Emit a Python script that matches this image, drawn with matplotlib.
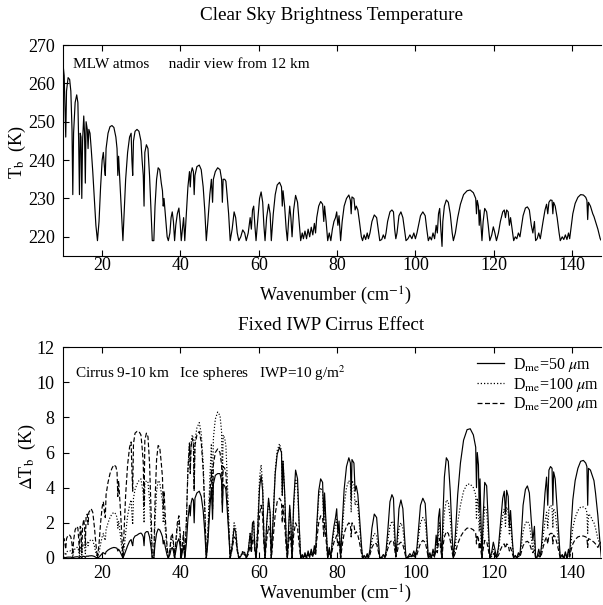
import matplotlib

matplotlib.use("Agg")
import matplotlib.pyplot as plt
from matplotlib.lines import Line2D

plt.rcParams["font.family"] = ["Liberation Serif", "DejaVu Serif"]
plt.rcParams["mathtext.fontset"] = "stix"

# wavenumber grid (cm-1), one line per spectral window
wavenumber = [
    10.0, 10.3, 10.5, 10.7, 10.9, 11.3, 11.7, 12.0, 12.3, 12.5, 12.7, 13.1, 13.5, 13.8, 14.0, 14.2, 14.4, 14.6, 14.8, 15.0, 15.3, 15.5, 15.7, 15.9, 16.2, 16.4, 16.6, 16.9, 17.2, 17.6, 18.0, 18.4, 18.8,
    19.2, 19.6, 20.0, 20.3, 20.6, 20.8, 21.0, 21.5, 22.0, 22.5, 23.0, 23.5, 23.8, 24.0, 24.2, 24.6, 25.0, 25.3,
    25.6, 26.0, 26.5, 27.0, 27.4, 27.6, 27.8, 28.0, 28.4, 28.9, 29.4, 29.9, 30.2, 30.5, 30.7, 30.9, 31.3, 31.7, 32.1, 32.5, 32.8,
    33.2, 33.5, 33.9, 34.3, 34.7, 35.1, 35.4, 35.6, 35.8, 36.2, 36.6, 36.9,
    37.3, 37.6, 37.9, 38.2, 38.5, 38.8, 39.2, 39.6, 39.9, 40.2, 40.5, 40.8, 41.1,
    41.5, 41.9, 42.3, 42.5, 42.7, 43.0, 43.3, 43.5, 43.7, 44.2, 44.8, 45.3, 45.8, 46.2, 46.6,
    47.0, 47.5, 47.9, 48.2, 48.4, 48.9, 49.5, 50.1, 50.5, 50.7, 50.9, 51.3, 51.6, 51.9, 52.3, 52.7,
    53.2, 53.7, 54.1, 54.5, 54.9, 55.4, 55.9, 56.4, 56.8,
    57.3, 57.8, 58.1, 58.4, 58.7, 59.0, 59.3, 59.7, 60.2, 60.6, 61.0, 61.3, 61.6, 62.0, 62.5, 62.9, 63.2, 63.7, 64.2, 64.7, 65.3, 65.8, 66.0, 66.2, 66.6, 67.0, 67.3, 67.6, 67.9, 68.2, 68.5, 68.9, 69.4, 69.9, 70.3, 70.7,
    71.1, 71.4, 71.8, 72.2, 72.6, 73.0, 73.4, 73.8, 74.2, 74.5,
    74.8, 75.3, 75.8, 76.3, 76.6, 76.8, 77.2, 77.6,
    78.0, 78.4, 78.8, 79.2, 79.6, 79.9, 80.2, 80.5, 80.9,
    81.3, 81.8, 82.4, 83.0, 83.4, 83.6, 83.8, 84.3, 84.6, 84.9, 85.3, 85.7, 86.2, 86.5,
    86.9, 87.3, 87.7, 88.0,
    88.4, 88.9, 89.5, 90.1, 90.5, 90.9,
    91.4, 91.8, 92.2, 92.5,
    92.9, 93.5, 94.0, 94.4, 94.7, 95.0,
    95.3, 95.8, 96.3, 96.8, 97.2, 97.6,
    98.1, 98.6, 99.1, 99.6, 100.0, 100.4,
    100.8, 101.3, 101.9, 102.5, 102.9, 103.3,
    103.7, 104.1, 104.5, 104.9, 105.3, 105.6, 105.9, 106.2, 106.5, 106.8,
    107.0, 107.4, 107.9, 108.4, 108.9, 109.4, 109.7,
    110.2, 110.8, 111.5, 112.3, 113.2, 114.0, 114.8, 115.4, 115.6, 115.8, 116.1, 116.3, 116.5, 116.8, 117.0,
    117.3, 117.7, 118.2, 118.6, 119.0,
    119.5, 119.9, 120.3, 120.7,
    121.2, 121.7, 122.3, 122.7, 123.0, 123.3, 123.7, 124.0, 124.3, 124.7, 125.1,
    125.5, 125.9, 126.3, 126.7,
    127.0, 127.5, 128.1, 128.6, 129.1, 129.6, 130.0, 130.4, 130.7,
    131.1, 131.5, 131.9, 132.2,
    132.6, 133.1, 133.5, 133.8, 134.1, 134.5, 134.9, 135.1, 135.3, 135.7, 136.2, 136.7, 137.0,
    137.5, 137.9, 138.3, 138.7, 139.1, 139.4,
    139.7, 140.2, 140.8, 141.5, 142.2, 142.9, 143.5, 143.8, 144.0, 144.2, 144.7, 145.3, 145.6, 146.0, 146.6, 147.2, 147.5,
]

# clear sky brightness temperature (K)
tb_clear = [
    265, 262, 254, 246, 258, 261.5, 261, 258, 248, 231, 247, 255, 257, 255, 245, 231, 247, 246, 230, 245, 251.5, 247, 234, 250, 248, 243, 248, 247, 243, 237, 230, 223, 219,
    224, 233, 240, 242, 238, 236, 243, 247, 248.7, 249, 248.5, 246, 243, 236, 241, 233, 225, 219,
    226, 235, 242, 246, 247, 240, 236, 245, 247.5, 248, 247.5, 245, 240, 236, 228, 242, 244, 243, 236, 226, 219,
    219, 228, 235, 238, 237.5, 234, 232, 228, 230, 225, 220, 219,
    221, 225, 226.5, 224, 219, 223, 226, 227.5, 224, 219, 222, 225, 219,
    226, 233, 237, 233, 236.5, 238, 237, 231, 236, 238.3, 238.7, 237.5, 233, 227, 219,
    224, 231, 235, 229, 235, 237, 238, 237.5, 235, 229, 235, 235, 234.5, 231, 226, 219,
    222, 226.5, 225, 221, 219, 220, 221.8, 221, 219,
    221, 225, 222, 227, 228, 223, 219, 224, 230, 231.7, 229, 223, 219, 225, 228.5, 226, 219, 226, 231, 233.5, 234.2, 233, 228, 232, 228, 222, 219, 224, 228, 225, 220, 227, 230.8, 229, 224, 219,
    221, 219.5, 221.5, 219.5, 222, 220, 222.5, 220.5, 223.5, 221,
    225, 228, 229.2, 228.5, 224, 228, 224, 219,
    221, 219, 222, 224, 225, 226.5, 223, 225.5, 219,
    224, 228, 230, 230.9, 229.5, 226, 230.4, 230, 227, 228, 227, 224, 220, 219,
    220.5, 219.3, 221, 219.5,
    221, 224, 225.7, 225, 222, 219,
    219.3, 220.5, 219.5, 221,
    224, 226.5, 227, 226.5, 222, 219.5,
    221, 225.5, 226.5, 225, 222, 219,
    219.5, 220.5, 219.5, 221, 219.5, 221,
    223, 225.5, 226.5, 225.5, 222, 219,
    220, 219.2, 221, 219.5, 223, 221, 226, 227.4, 222, 217.5,
    224, 228, 229.6, 229, 226, 221, 219,
    221, 225, 228.5, 231, 232, 232.2, 231.5, 230, 226, 229.5, 228, 223, 227, 222, 219,
    224, 227.4, 226.5, 223, 219,
    220.5, 222.6, 221, 219,
    221, 224, 226.5, 227, 225, 227, 226.5, 223, 225, 222, 219,
    220, 219.5, 221, 220,
    222, 225.5, 227.5, 227.8, 227, 223, 221, 224, 219,
    219.5, 221, 219.5, 221.5,
    224, 227, 228.5, 226, 229, 229.6, 229.5, 226, 229, 228, 225, 221, 219,
    220, 219.3, 220.5, 219.3, 221, 219.5,
    222, 226, 228.7, 230.3, 231, 230.9, 230.3, 229.5, 224.5, 229, 228, 226, 225.3, 224, 222, 219.5, 219,
]

# cirrus effect, D_me = 50 um (K)
dtb_50 = [
    0.04, 0.04, 0.03, 0.02, 0.04, 0.05, 0.05, 0.05, 0.03, 0.01, 0.04, 0.06, 0.07, 0.07, 0.05, 0.01, 0.08, 0.08, 0.01, 0.08, 0.1, 0.08, 0.03, 0.1, 0.11, 0.09, 0.12, 0.12, 0.13, 0.12, 0.09, 0.04, 0.0,
    0.05, 0.15, 0.25, 0.3, 0.25, 0.22, 0.35, 0.45, 0.52, 0.57, 0.6, 0.58, 0.55, 0.4, 0.5, 0.35, 0.15, 0.0,
    0.15, 0.4, 0.7, 0.95, 1.05, 0.85, 0.7, 1.1, 1.25, 1.3, 1.38, 1.42, 1.35, 1.2, 0.7, 1.4, 1.5, 1.5, 1.2, 0.6, 0.0,
    0.0, 0.8, 1.4, 1.65, 1.6, 1.4, 1.2, 0.8, 1.0, 0.55, 0.15, 0.0,
    0.2, 0.5, 0.6, 0.4, 0.0, 0.4, 0.9, 1.1, 0.7, 0.0, 0.4, 0.7, 0.0,
    0.8, 2.2, 3.0, 2.4, 3.1, 3.4, 3.3, 2.0, 3.4, 3.7, 3.8, 3.5, 2.7, 1.5, 0.0,
    0.9, 2.8, 4.0, 2.2, 4.2, 4.7, 4.8, 4.8, 4.4, 2.6, 4.2, 4.1, 3.9, 2.9, 1.5, 0.0,
    0.7, 1.7, 1.5, 0.5, 0.0, 0.1, 0.35, 0.3, 0.0,
    0.4, 1.4, 0.6, 2.0, 2.1, 0.6, 0.0, 1.5, 4.0, 4.7, 3.8, 1.3, 0.0, 1.9, 3.4, 2.6, 0.0, 2.4, 4.8, 5.9, 6.3, 6.0, 3.6, 5.5, 3.8, 1.1, 0.0, 1.6, 3.0, 2.0, 0.0, 3.1, 5.0, 4.5, 2.0, 0.0,
    0.2, 0.0, 0.3, 0.0, 0.4, 0.05, 0.5, 0.1, 0.7, 0.3,
    1.8, 3.8, 4.5, 4.3, 2.2, 3.7, 1.8, 0.0,
    0.6, 0.0, 1.1, 1.8, 2.3, 2.8, 1.4, 2.1, 0.0,
    1.9, 3.9, 5.2, 5.7, 5.4, 3.3, 5.6, 5.4, 3.8, 4.1, 3.6, 2.4, 0.8, 0.0,
    0.15, 0.0, 0.25, 0.0,
    0.5, 1.7, 2.5, 2.3, 1.1, 0.0,
    0.05, 0.2, 0.05, 0.4,
    1.4, 3.2, 3.6, 3.4, 1.6, 0.1,
    0.9, 2.8, 3.3, 2.8, 1.3, 0.0,
    0.08, 0.25, 0.08, 0.4, 0.08, 0.6,
    1.7, 3.0, 3.4, 3.1, 1.6, 0.0,
    0.3, 0.0, 0.5, 0.1, 1.3, 0.7, 2.3, 2.8, 1.0, 0.0,
    2.2, 4.6, 5.7, 5.5, 3.8, 1.2, 0.0,
    1.3, 3.6, 5.4, 6.7, 7.3, 7.35, 7.0, 6.3, 4.0, 6.0, 5.3, 2.6, 4.5, 1.6, 0.0,
    2.3, 4.3, 4.1, 2.1, 0.0,
    0.35, 0.9, 0.5, 0.0,
    0.6, 1.9, 3.4, 3.8, 2.5, 3.85, 3.5, 1.8, 2.7, 1.2, 0.0,
    0.15, 0.0, 0.3, 0.15,
    1.1, 3.0, 3.9, 4.1, 3.7, 2.1, 1.0, 1.8, 0.0,
    0.08, 0.5, 0.08, 0.7,
    2.0, 3.7, 4.6, 3.0, 5.0, 5.2, 5.1, 3.0, 4.9, 4.5, 2.8, 1.0, 0.0,
    0.2, 0.0, 0.35, 0.0, 0.5, 0.1,
    1.5, 3.3, 4.4, 5.1, 5.5, 5.55, 5.4, 5.2, 3.0, 5.1, 5.0, 4.6, 4.4, 3.7, 2.4, 0.7, 0.0,
]

# cirrus effect, D_me = 100 um (K)
dtb_100 = [
    0.3, 0.35, 0.25, 0.15, 0.35, 0.4, 0.4, 0.4, 0.25, 0.05, 0.35, 0.55, 0.6, 0.6, 0.4, 0.1, 0.65, 0.6, 0.1, 0.65, 0.8, 0.65, 0.25, 0.85, 0.9, 0.7, 0.95, 1.0, 1.05, 1.0, 0.7, 0.3, 0.0,
    0.3, 0.8, 1.2, 1.4, 1.1, 1.0, 1.6, 2.0, 2.3, 2.5, 2.6, 2.5, 2.3, 1.7, 2.1, 1.4, 0.6, 0.0,
    0.5, 1.4, 2.4, 3.0, 3.3, 2.5, 1.9, 3.4, 3.9, 4.2, 4.4, 4.5, 4.1, 3.6, 2.0, 4.2, 4.4, 4.3, 3.3, 1.5, 0.0,
    0.0, 2.1, 3.8, 4.4, 4.3, 3.7, 3.2, 2.0, 2.6, 1.4, 0.4, 0.0,
    0.4, 1.0, 1.2, 0.8, 0.0, 0.8, 1.7, 2.1, 1.3, 0.0, 0.7, 1.2, 0.0,
    2.0, 5.0, 6.6, 5.0, 6.5, 7.0, 6.8, 4.0, 6.7, 7.4, 7.7, 7.1, 5.4, 3.0, 0.0,
    1.5, 4.5, 6.5, 3.6, 6.8, 7.9, 8.3, 8.1, 7.2, 4.0, 7.0, 6.8, 6.4, 4.8, 2.4, 0.0,
    0.8, 2.0, 1.7, 0.6, 0.0, 0.1, 0.4, 0.3, 0.0,
    0.4, 1.4, 0.6, 1.9, 2.0, 0.6, 0.0, 1.7, 4.6, 5.3, 4.2, 1.4, 0.0, 1.8, 3.2, 2.5, 0.0, 2.5, 5.0, 6.1, 6.5, 6.1, 3.5, 5.5, 3.6, 1.0, 0.0, 1.5, 2.8, 1.8, 0.0, 2.8, 4.5, 4.0, 1.8, 0.0,
    0.15, 0.0, 0.2, 0.0, 0.3, 0.05, 0.35, 0.1, 0.5, 0.2,
    1.6, 3.4, 4.0, 3.8, 2.0, 3.3, 1.6, 0.0,
    0.5, 0.0, 0.9, 1.5, 1.9, 2.2, 1.2, 1.7, 0.0,
    1.5, 3.0, 4.0, 4.4, 4.2, 2.6, 4.4, 4.2, 3.0, 3.3, 2.9, 1.9, 0.6, 0.0,
    0.1, 0.0, 0.2, 0.0,
    0.3, 1.0, 1.4, 1.3, 0.6, 0.0,
    0.03, 0.12, 0.03, 0.2,
    0.9, 1.8, 2.1, 2.0, 1.0, 0.1,
    0.6, 1.7, 2.0, 1.7, 0.8, 0.0,
    0.05, 0.15, 0.05, 0.25, 0.05, 0.35,
    1.2, 2.0, 2.3, 2.1, 1.1, 0.0,
    0.2, 0.0, 0.35, 0.1, 0.9, 0.5, 1.6, 2.0, 0.7, 0.0,
    1.3, 2.6, 3.3, 3.2, 2.2, 0.7, 0.0,
    0.7, 2.0, 3.0, 3.8, 4.2, 4.2, 4.0, 3.6, 2.2, 3.4, 3.0, 1.5, 2.5, 0.9, 0.0,
    1.5, 2.9, 2.7, 1.4, 0.0,
    0.2, 0.5, 0.3, 0.0,
    0.4, 1.3, 2.4, 2.8, 1.8, 2.9, 2.6, 1.3, 2.0, 0.9, 0.0,
    0.1, 0.0, 0.2, 0.1,
    0.6, 1.5, 2.0, 2.1, 1.9, 1.1, 0.5, 1.0, 0.0,
    0.05, 0.3, 0.05, 0.4,
    1.2, 2.1, 2.6, 1.7, 2.8, 3.0, 2.9, 1.7, 2.8, 2.6, 1.6, 0.6, 0.0,
    0.15, 0.0, 0.25, 0.0, 0.35, 0.1,
    0.8, 1.7, 2.3, 2.7, 2.9, 2.9, 2.8, 2.6, 1.4, 2.5, 2.4, 2.1, 2.0, 1.7, 1.1, 0.7, 0.5,
]

# cirrus effect, D_me = 200 um (K)
dtb_200 = [
    1.0, 1.1, 0.8, 0.5, 1.1, 1.3, 1.3, 1.2, 0.8, 0.2, 1.0, 1.6, 1.8, 1.7, 1.1, 0.3, 1.8, 1.7, 0.3, 1.8, 2.2, 1.8, 0.7, 2.4, 2.5, 1.9, 2.6, 2.7, 2.8, 2.6, 1.8, 0.8, 0.0,
    0.8, 2.0, 2.9, 3.2, 2.6, 2.3, 3.6, 4.3, 4.8, 5.1, 5.3, 5.2, 4.9, 3.5, 4.4, 3.0, 1.4, 0.0,
    1.5, 3.6, 5.3, 6.3, 6.6, 5.0, 3.8, 6.5, 7.1, 7.2, 7.2, 7.0, 6.3, 5.4, 3.0, 6.7, 7.1, 6.9, 5.4, 2.6, 0.0,
    0.0, 3.2, 5.6, 6.4, 6.3, 5.4, 4.6, 2.8, 3.8, 2.0, 0.6, 0.0,
    0.5, 1.2, 1.4, 0.9, 0.0, 0.9, 2.0, 2.4, 1.5, 0.0, 0.8, 1.5, 0.0,
    2.0, 5.0, 6.5, 4.8, 6.3, 6.8, 6.5, 3.8, 6.4, 7.0, 7.2, 6.6, 5.0, 2.8, 0.0,
    1.2, 3.6, 5.0, 2.8, 5.3, 6.0, 6.2, 6.0, 5.3, 3.0, 5.2, 5.1, 4.8, 3.6, 1.8, 0.0,
    0.5, 1.2, 1.1, 0.4, 0.0, 0.1, 0.25, 0.2, 0.0,
    0.2, 0.7, 0.3, 1.0, 1.1, 0.4, 0.0, 0.9, 2.5, 3.0, 2.4, 0.8, 0.0, 1.0, 1.8, 1.4, 0.0, 1.2, 2.5, 3.2, 3.4, 3.2, 2.0, 3.0, 2.0, 0.6, 0.0, 0.8, 1.5, 0.9, 0.0, 1.3, 2.0, 1.7, 0.8, 0.0,
    0.1, 0.0, 0.15, 0.0, 0.2, 0.05, 0.25, 0.08, 0.35, 0.15,
    1.0, 2.0, 2.4, 2.3, 1.2, 2.0, 1.0, 0.0,
    0.3, 0.0, 0.5, 0.9, 1.1, 1.3, 0.7, 1.0, 0.0,
    0.7, 1.4, 1.8, 2.0, 1.9, 1.2, 2.0, 1.9, 1.4, 1.5, 1.3, 0.9, 0.3, 0.0,
    0.08, 0.0, 0.12, 0.0,
    0.2, 0.6, 0.85, 0.8, 0.4, 0.0,
    0.02, 0.08, 0.02, 0.15,
    0.5, 0.9, 1.0, 0.95, 0.5, 0.05,
    0.3, 0.8, 0.9, 0.75, 0.4, 0.0,
    0.03, 0.1, 0.03, 0.15, 0.03, 0.2,
    0.5, 0.85, 1.0, 0.9, 0.5, 0.0,
    0.1, 0.0, 0.2, 0.05, 0.5, 0.3, 0.9, 1.1, 0.4, 0.0,
    0.6, 1.2, 1.5, 1.4, 1.0, 0.3, 0.0,
    0.3, 0.8, 1.2, 1.5, 1.7, 1.7, 1.6, 1.4, 0.8, 1.3, 1.1, 0.5, 0.9, 0.3, 0.0,
    0.5, 1.0, 0.95, 0.5, 0.0,
    0.1, 0.25, 0.15, 0.0,
    0.15, 0.45, 0.75, 0.8, 0.55, 0.8, 0.75, 0.4, 0.6, 0.3, 0.0,
    0.05, 0.0, 0.1, 0.05,
    0.3, 0.7, 0.9, 0.95, 0.85, 0.5, 0.3, 0.45, 0.0,
    0.03, 0.15, 0.03, 0.2,
    0.6, 1.0, 1.2, 0.8, 1.3, 1.4, 1.4, 0.8, 1.3, 1.2, 0.8, 0.3, 0.0,
    0.1, 0.0, 0.15, 0.0, 0.2, 0.05,
    0.4, 0.8, 1.05, 1.2, 1.25, 1.25, 1.2, 1.15, 0.6, 1.1, 1.05, 0.95, 0.9, 0.8, 0.6, 0.9, 0.8,
]

for name, arr in [("tb_clear", tb_clear), ("dtb_50", dtb_50), ("dtb_100", dtb_100), ("dtb_200", dtb_200)]:
    assert len(arr) == len(wavenumber), (name, len(arr), len(wavenumber))

cirrus_series = [dtb_50, dtb_100, dtb_200]
cirrus_labels = [r"D$_{\rm me}$=50 $\mu$m", r"D$_{\rm me}$=100 $\mu$m", r"D$_{\rm me}$=200 $\mu$m"]
cirrus_styles = ["-", (0, (1, 1.6)), (0, (4, 2))]

W, H = 603, 605
fig = plt.figure(figsize=(W / 100, H / 100), dpi=100)
ax1 = fig.add_axes([63 / W, 1 - 256 / H, 538 / W, 211 / H])
ax2 = fig.add_axes([63 / W, 1 - 558 / H, 538 / W, 211 / H])

ax1.plot(wavenumber, tb_clear, color="black", lw=0.85)
ax1.set_ylim(215, 270)
ax1.set_yticks([220, 230, 240, 250, 260, 270])

for vals, lab, ls in zip(cirrus_series, cirrus_labels, cirrus_styles):
    ax2.plot(wavenumber, vals, color="black", lw=0.85, ls=ls, label=lab)
ax2.set_ylim(0, 12)
ax2.set_yticks([0, 2, 4, 6, 8, 10, 12])

for ax in (ax1, ax2):
    ax.set_xlim(10, 147.4)
    ax.set_xticks([20, 40, 60, 80, 100, 120, 140])
    ax.tick_params(direction="in", top=True, length=4, labelsize=13, pad=6)
    ax.spines["right"].set_visible(False)
ax1.tick_params(axis="x", pad=1)
ax2.tick_params(axis="x", pad=5)

handles = [Line2D([], [], color="black", lw=0.9, ls=ls) for ls in cirrus_styles]
ax2.legend(handles, cirrus_labels, loc="upper right", bbox_to_anchor=(1.01, 0.995),
           frameon=False, fontsize=11.5, handlelength=1.7, handletextpad=0.55,
           labelspacing=0.1, borderpad=0)

fig.text(331 / W, 1 - 15 / H, "Clear Sky Brightness Temperature", ha="center", va="center", fontsize=13.8)
fig.text(331 / W, 1 - 325 / H, "Fixed IWP Cirrus Effect", ha="center", va="center", fontsize=13.8)
fig.text(335 / W, 1 - 296 / H, r"Wavenumber (cm$^{-1}$)", ha="center", va="center", fontsize=13)
fig.text(335 / W, 1 - 594 / H, r"Wavenumber (cm$^{-1}$)", ha="center", va="center", fontsize=13)
fig.text(17 / W, 1 - 152 / H, r"T$_{\rm b}$  (K)", ha="center", va="center", rotation=90, fontsize=13)
fig.text(27 / W, 1 - 457 / H, r"$\Delta$T$_{\rm b}$  (K)", ha="center", va="center", rotation=90, fontsize=13)
fig.text(73 / W, 1 - 65 / H, "MLW atmos     nadir view from 12 km", ha="left", va="center", fontsize=11)
fig.text(75 / W, 1 - 373 / H, r"Cirrus 9-10 km   Ice spheres   IWP=10 g/m$^2$", ha="left", va="center", fontsize=11)

fig.savefig("out.png", dpi=100)
